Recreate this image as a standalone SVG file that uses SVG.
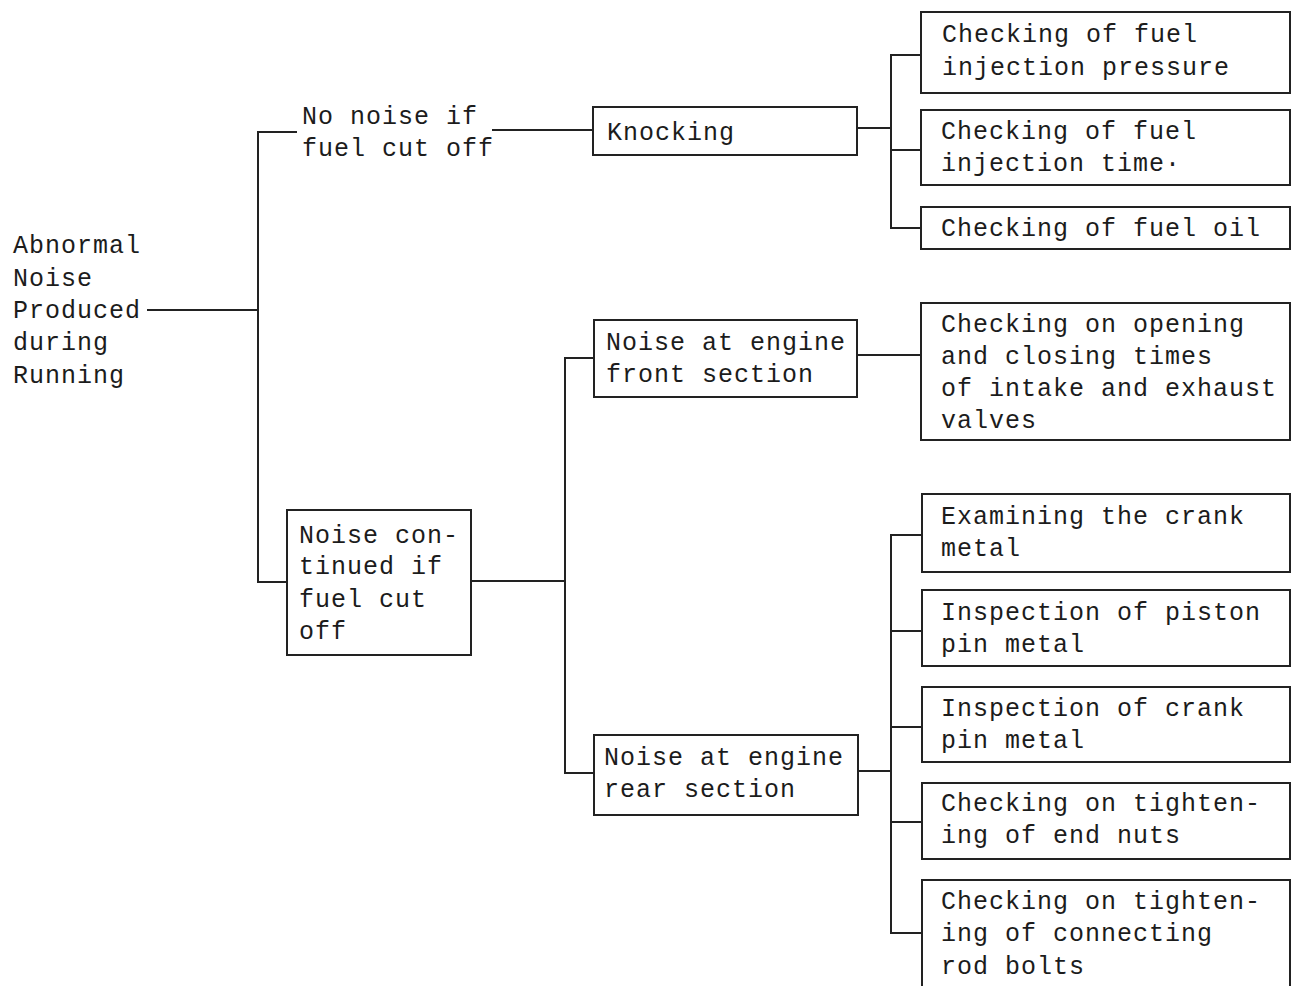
<svg xmlns="http://www.w3.org/2000/svg" width="1302" height="986" viewBox="0 0 1302 986">
  <style>
    .box { fill: #ffffff; stroke: #222; stroke-width: 2; }
    .wire { fill: none; stroke: #222; stroke-width: 2; }
    text { font-family: "Liberation Mono", "Courier New", monospace; font-size: 25px; letter-spacing: 1px; fill: #1c1c1c; }
  </style>
  <rect width="1302" height="986" fill="#ffffff"/>

  <!-- connectors -->
  <g id="connectors" class="wire">
    <path d="M147 310 H258"/>
    <path d="M297 132 H258 V582 H287"/>
    <path d="M492 130 H593"/>
    <path d="M857 128 H891"/>
    <path d="M921 55 H891 V228 H921"/>
    <path d="M891 150 H921"/>
    <path d="M471 581 H565"/>
    <path d="M594 358 H565 V773 H594"/>
    <path d="M857 355 H921"/>
    <path d="M858 771 H891"/>
    <path d="M921 535 H891 V933 H921"/>
    <path d="M891 631 H921"/>
    <path d="M891 727 H921"/>
    <path d="M891 822 H921"/>
  </g>

  <!-- root -->
  <g id="root">
    <text x="13" y="253">Abnormal</text>
    <text x="13" y="286">Noise</text>
    <text x="13" y="318">Produced</text>
    <text x="13" y="350">during</text>
    <text x="13" y="383">Running</text>
  </g>

  <!-- first level -->
  <g id="no-noise">
    <text x="302" y="124">No noise if</text>
    <text x="302" y="156">fuel cut off</text>
  </g>
  <g id="noise-continued">
    <rect class="box" x="287" y="510" width="184" height="145"/>
    <text x="299" y="543">Noise con-</text>
    <text x="299" y="574">tinued if</text>
    <text x="299" y="607">fuel cut</text>
    <text x="299" y="639">off</text>
  </g>

  <!-- second level -->
  <g id="knocking">
    <rect class="box" x="593" y="107" width="264" height="48"/>
    <text x="607" y="140" fill="#333">Knocking</text>
  </g>
  <g id="front-section">
    <rect class="box" x="594" y="320" width="263" height="77"/>
    <text x="606" y="350">Noise at engine</text>
    <text x="606" y="382">front section</text>
  </g>
  <g id="rear-section">
    <rect class="box" x="594" y="735" width="264" height="80"/>
    <text x="604" y="765">Noise at engine</text>
    <text x="604" y="797">rear section</text>
  </g>

  <!-- checks for knocking -->
  <g id="fuel-pressure">
    <rect class="box" x="921" y="12" width="369" height="81"/>
    <text x="942" y="42">Checking of fuel</text>
    <text x="942" y="75">injection pressure</text>
  </g>
  <g id="fuel-timing">
    <rect class="box" x="921" y="110" width="369" height="75"/>
    <text x="941" y="139">Checking of fuel</text>
    <text x="941" y="171">injection time·</text>
  </g>
  <g id="fuel-oil">
    <rect class="box" x="921" y="207" width="369" height="42"/>
    <text x="941" y="236">Checking of fuel oil</text>
  </g>

  <!-- check for front section -->
  <g id="valve-timing">
    <rect class="box" x="921" y="303" width="369" height="137"/>
    <text x="941" y="332">Checking on opening</text>
    <text x="941" y="364">and closing times</text>
    <text x="941" y="396">of intake and exhaust</text>
    <text x="941" y="428">valves</text>
  </g>

  <!-- checks for rear section -->
  <g id="crank-metal">
    <rect class="box" x="922" y="494" width="368" height="78"/>
    <text x="941" y="524">Examining the crank</text>
    <text x="941" y="556">metal</text>
  </g>
  <g id="piston-pin">
    <rect class="box" x="922" y="590" width="368" height="76"/>
    <text x="941" y="620">Inspection of piston</text>
    <text x="941" y="652">pin metal</text>
  </g>
  <g id="crank-pin">
    <rect class="box" x="922" y="687" width="368" height="75"/>
    <text x="941" y="716">Inspection of crank</text>
    <text x="941" y="748">pin metal</text>
  </g>
  <g id="end-nuts">
    <rect class="box" x="922" y="783" width="368" height="76"/>
    <text x="941" y="811">Checking on tighten-</text>
    <text x="941" y="843">ing of end nuts</text>
  </g>
  <g id="rod-bolts">
    <rect class="box" x="922" y="880" width="368" height="120"/>
    <text x="941" y="909">Checking on tighten-</text>
    <text x="941" y="941">ing of connecting</text>
    <text x="941" y="974">rod bolts</text>
  </g>
</svg>
